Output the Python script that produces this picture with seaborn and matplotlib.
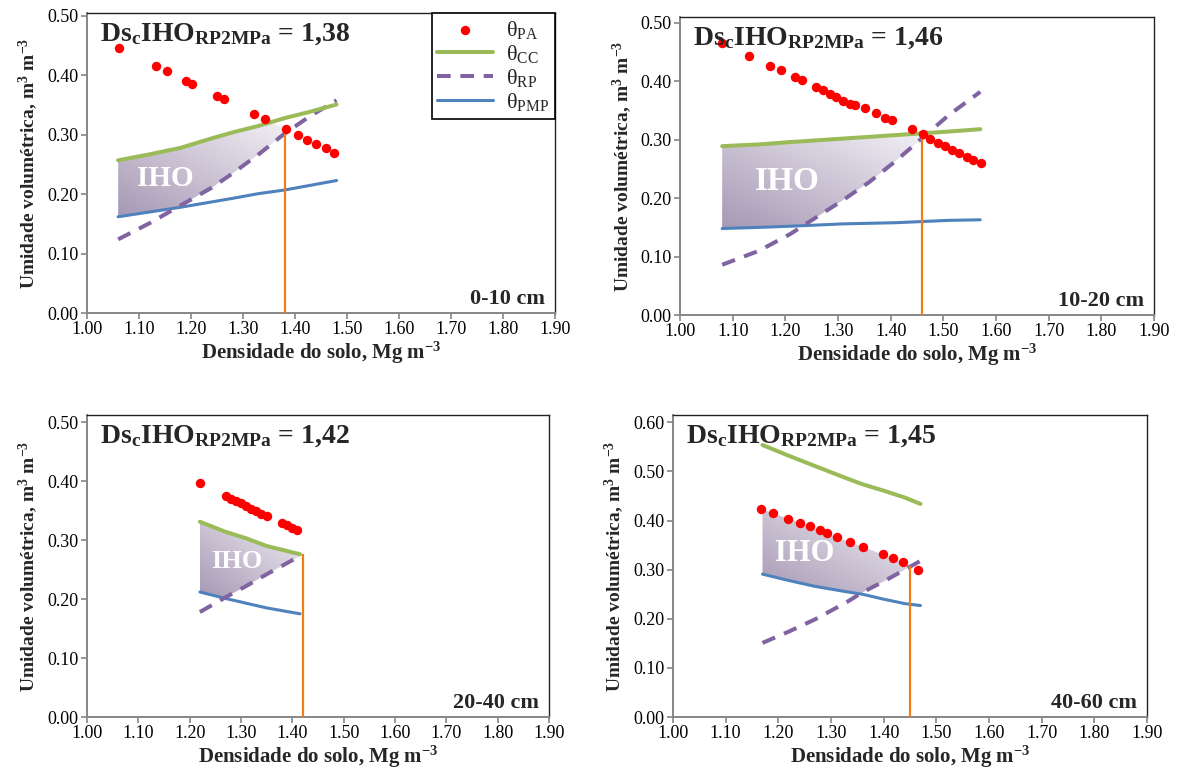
import numpy as np
import pandas as pd
import matplotlib
matplotlib.use("Agg")
import matplotlib.pyplot as plt
import seaborn as sns
from matplotlib.patches import Polygon
from matplotlib.colors import LinearSegmentedColormap
from matplotlib.ticker import FormatStrFormatter

sns.set_theme(style="white")
plt.rcParams["font.family"] = ["Liberation Serif", "DejaVu Serif"]
plt.rcParams["mathtext.fontset"] = "custom"
plt.rcParams["mathtext.rm"] = "Liberation Serif"
plt.rcParams["mathtext.bf"] = "Liberation Serif:bold"
plt.rcParams["mathtext.it"] = "Liberation Serif:italic"

# ---------------- data ----------------
depths = ["0-10 cm", "10-20 cm", "20-40 cm", "40-60 cm"]
dsc = [1.38, 1.46, 1.42, 1.45]

# 0-10 cm
ds_0 = [1.06, 1.12, 1.18, 1.24, 1.28, 1.33, 1.38, 1.43, 1.48]
cc_0 = [0.257, 0.267, 0.278, 0.294, 0.304, 0.315, 0.328, 0.339, 0.351]
rp_0 = [0.124, 0.151, 0.181, 0.211, 0.235, 0.267, 0.302, 0.332, 0.358]
pmp_0 = [0.162, 0.170, 0.178, 0.187, 0.193, 0.201, 0.207, 0.215, 0.223]
pa_ds_0 = [1.062, 1.132, 1.153, 1.191, 1.202, 1.251, 1.263, 1.322, 1.342,
           1.382, 1.406, 1.424, 1.441, 1.459, 1.476]
pa_0 = [0.446, 0.416, 0.408, 0.390, 0.386, 0.365, 0.361, 0.335, 0.327,
        0.310, 0.300, 0.292, 0.284, 0.277, 0.269]

# 10-20 cm
ds_1 = [1.08, 1.15, 1.21, 1.26, 1.31, 1.36, 1.41, 1.46, 1.51, 1.57]
cc_1 = [0.289, 0.292, 0.296, 0.299, 0.302, 0.305, 0.308, 0.311, 0.314, 0.318]
rp_1 = [0.086, 0.110, 0.139, 0.168, 0.197, 0.228, 0.264, 0.303, 0.342, 0.382]
pmp_1 = [0.148, 0.150, 0.152, 0.154, 0.156, 0.157, 0.158, 0.160, 0.162, 0.163]
pa_ds_1 = [1.079, 1.131, 1.170, 1.191, 1.219, 1.232, 1.259, 1.272, 1.285,
           1.297, 1.310, 1.323, 1.332, 1.351, 1.372, 1.389, 1.402, 1.441,
           1.461, 1.475, 1.489, 1.503, 1.516, 1.530, 1.544, 1.557, 1.572]
pa_1 = [0.465, 0.443, 0.427, 0.419, 0.407, 0.402, 0.391, 0.385, 0.379,
        0.373, 0.367, 0.362, 0.359, 0.354, 0.346, 0.338, 0.334, 0.318,
        0.309, 0.301, 0.295, 0.290, 0.283, 0.278, 0.271, 0.266, 0.260]

# 20-40 cm
ds_2 = [1.22, 1.27, 1.31, 1.35, 1.415]
cc_2 = [0.331, 0.314, 0.303, 0.290, 0.276]
rp_2 = [0.178, 0.203, 0.222, 0.242, 0.273]
pmp_2 = [0.212, 0.201, 0.193, 0.185, 0.175]
pa_ds_2 = [1.22, 1.27, 1.28, 1.29, 1.30, 1.31, 1.32, 1.33, 1.34, 1.35,
           1.38, 1.39, 1.40, 1.41]
pa_2 = [0.396, 0.375, 0.370, 0.366, 0.362, 0.357, 0.353, 0.349, 0.345,
        0.341, 0.329, 0.325, 0.321, 0.317]

# 40-60 cm
ds_3 = [1.17, 1.22, 1.27, 1.33, 1.36, 1.40, 1.44, 1.47]
cc_3 = [0.554, 0.532, 0.511, 0.486, 0.474, 0.461, 0.447, 0.434]
rp_3 = [0.151, 0.174, 0.199, 0.234, 0.254, 0.276, 0.300, 0.318]
pmp_3 = [0.291, 0.278, 0.266, 0.255, 0.250, 0.240, 0.231, 0.227]
pa_ds_3 = [1.168, 1.190, 1.219, 1.241, 1.260, 1.279, 1.292, 1.311, 1.336,
           1.361, 1.399, 1.418, 1.437, 1.465]
pa_3 = [0.424, 0.415, 0.404, 0.396, 0.388, 0.380, 0.375, 0.366, 0.356,
        0.346, 0.331, 0.324, 0.316, 0.300]

x_ticks = [1.00, 1.10, 1.20, 1.30, 1.40, 1.50, 1.60, 1.70, 1.80, 1.90]
y_ticks_low = [0.00, 0.10, 0.20, 0.30, 0.40, 0.50]
y_ticks_high = [0.00, 0.10, 0.20, 0.30, 0.40, 0.50, 0.60]

panels = [
    (ds_0, cc_0, rp_0, pmp_0, pa_ds_0, pa_0),
    (ds_1, cc_1, rp_1, pmp_1, pa_ds_1, pa_1),
    (ds_2, cc_2, rp_2, pmp_2, pa_ds_2, pa_2),
    (ds_3, cc_3, rp_3, pmp_3, pa_ds_3, pa_3),
]

# ---------------- styling ----------------
C_PA = "#ff0000"
C_CC = "#9bbb59"
C_RP = "#8064a2"
C_PMP = "#4f81bd"
C_DSC = "#f07d18"
iho_cmap = LinearSegmentedColormap.from_list("iho", ["#a698b4", "#f2f0f5"])

rects = [
    [0.0737, 0.5956, 0.3966, 0.3876],
    [0.5763, 0.5930, 0.4017, 0.3850],
    [0.0737, 0.0736, 0.3915, 0.3902],
    [0.5703, 0.0736, 0.4017, 0.3902],
]
y_tops = [0.505, 0.510, 0.512, 0.615]
iho_text = [(1.15, 0.227, 21), (1.204, 0.229, 24), (1.292, 0.263, 19), (1.251, 0.333, 22)]

lab_pa = "θ$_{\\mathrm{PA}}$"
lab_cc = "θ$_{\\mathrm{CC}}$"
lab_rp = "θ$_{\\mathrm{RP}}$"
lab_pmp = "θ$_{\\mathrm{PMP}}$"

fig = plt.figure(figsize=(11.8, 7.74), dpi=100)

for i, (ds, cc, rp, pmp, pa_ds, pa) in enumerate(panels):
    ax = fig.add_axes(rects[i])
    ax.set_facecolor("white")

    # IHO region: bounded above by min(CC, PA) and below by max(PMP, RP)
    xs = np.linspace(ds[0], dsc[i], 300)
    upper = np.minimum(np.interp(xs, ds, cc), np.interp(xs, pa_ds, pa))
    lower = np.maximum(np.interp(xs, ds, pmp), np.interp(xs, ds, rp))
    lower = np.minimum(lower, upper)
    verts = np.vstack([np.column_stack([xs, upper]),
                       np.column_stack([xs[::-1], lower[::-1]])])
    poly = Polygon(verts, closed=True, facecolor="none", edgecolor="none",
                   transform=ax.transData)
    ax.add_patch(poly)
    n = 256
    gx, gy = np.meshgrid(np.linspace(0, 1, n), np.linspace(0, 1, n))
    grad = (gx + gy) / 2.0
    im = ax.imshow(grad, cmap=iho_cmap, origin="lower", aspect="auto",
                   extent=(xs.min(), xs.max(), lower.min(), upper.max()),
                   zorder=1, interpolation="bilinear")
    im.set_clip_path(poly)

    tx, ty, tsize = iho_text[i]
    ax.text(tx, ty, "IHO", color="white", fontsize=tsize, fontweight="bold",
            ha="center", va="center", zorder=2)

    sns.lineplot(x=ds, y=pmp, ax=ax, color=C_PMP, lw=2.2, zorder=3,
                 label=lab_pmp if i == 0 else None, legend=False)
    sns.lineplot(x=ds, y=rp, ax=ax, color=C_RP, lw=2.9, zorder=3,
                 linestyle=(0, (3.4, 2.4)),
                 label=lab_rp if i == 0 else None, legend=False)
    sns.lineplot(x=ds, y=cc, ax=ax, color=C_CC, lw=2.9, zorder=4,
                 label=lab_cc if i == 0 else None, legend=False)

    # density at which the IHO closes
    top = min(np.interp(dsc[i], ds, cc), np.interp(dsc[i], pa_ds, pa))
    ax.plot([dsc[i], dsc[i]], [0, top], color=C_DSC, lw=1.6, zorder=4,
            solid_capstyle="butt")

    sns.scatterplot(x=pa_ds, y=pa, ax=ax, color=C_PA, s=46, linewidth=0,
                    zorder=5, label=lab_pa if i == 0 else None, legend=False)

    ax.set_xlim(1.0, 1.9)
    ax.set_ylim(0, y_tops[i])
    ax.set_xticks(x_ticks)
    ax.set_yticks(y_ticks_high if i == 3 else y_ticks_low)
    ax.xaxis.set_major_formatter(FormatStrFormatter("%.2f"))
    ax.yaxis.set_major_formatter(FormatStrFormatter("%.2f"))
    ax.tick_params(axis="both", which="major", direction="out", length=4,
                   width=1.2, color="#868686", labelsize=13, labelcolor="black",
                   pad=2, bottom=True, left=True)
    for side in ("left", "bottom"):
        ax.spines[side].set_color("#868686")
        ax.spines[side].set_linewidth(1.4)
    for side in ("top", "right"):
        ax.spines[side].set_color("#222222")
        ax.spines[side].set_linewidth(1.0)

    ax.set_xlabel("Densidade do solo, Mg m$^{\\mathbf{-3}}$", fontsize=15,
                  fontweight="bold", labelpad=1)
    ax.set_ylabel("Umidade volumétrica, m$^{\\mathbf{3}}$ m$^{\\mathbf{-3}}$",
                  fontsize=14, fontweight="bold", labelpad=5)

    label_val = f"{dsc[i]:.2f}".replace(".", ",")
    ax.text(0.028, 0.907,
            "$\\mathbf{Ds}_{\\mathbf{c}}\\mathbf{IHO}_{\\mathbf{RP2MPa}}$ = " + label_val,
            transform=ax.transAxes, fontsize=20, fontweight="bold",
            ha="left", va="baseline", zorder=6)
    ax.text(0.979, 0.03, depths[i], transform=ax.transAxes, fontsize=16,
            fontweight="bold", ha="right", va="baseline", zorder=6)

    if i == 0:
        handles, labels = ax.get_legend_handles_labels()
        order = [lab_pa, lab_cc, lab_rp, lab_pmp]
        hmap = dict(zip(labels, handles))
        leg = ax.legend([hmap[k] for k in order], order, loc="upper right",
                        bbox_to_anchor=(1.0, 1.0), borderaxespad=0,
                        fontsize=16, frameon=True, fancybox=False,
                        edgecolor="black", framealpha=1, handlelength=2.5,
                        labelspacing=0.1, borderpad=0.25, scatterpoints=1,
                        handletextpad=0.6)
        leg.get_frame().set_linewidth(1.2)
        leg.set_zorder(7)

fig.savefig("out.png", dpi=100, facecolor="white")
